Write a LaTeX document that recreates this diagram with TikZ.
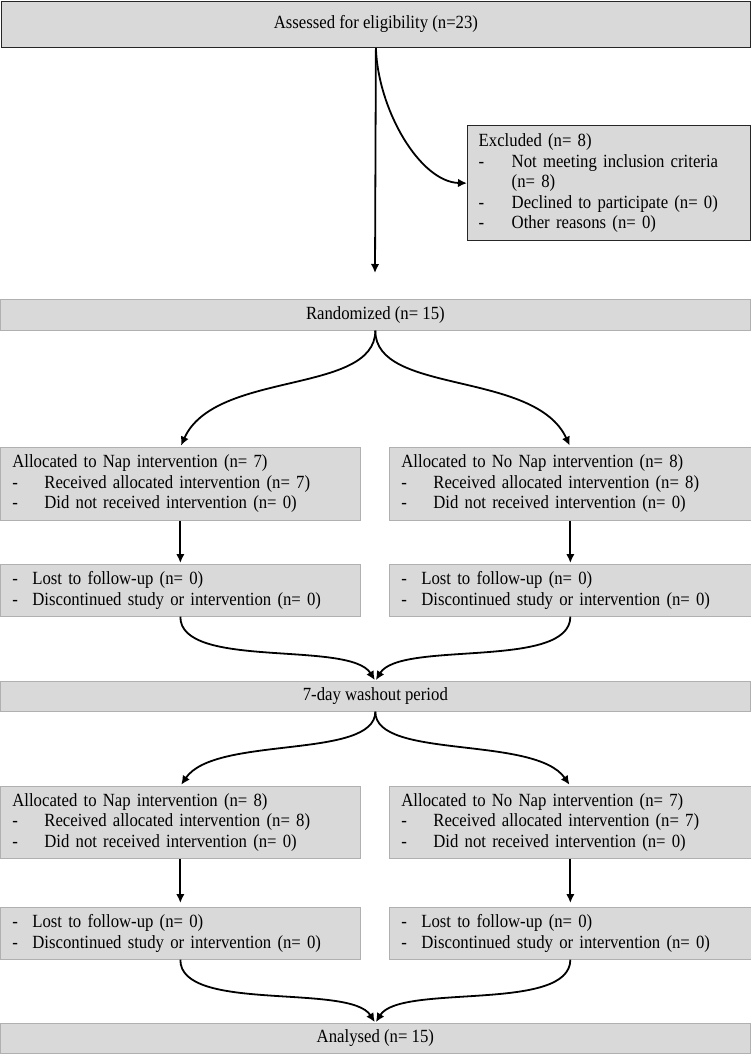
\documentclass[tikz,border=0pt]{standalone}
\usepackage{fontspec}
\setmainfont{Liberation Serif}[FakeStretch=0.90]
\usetikzlibrary{arrows.meta}
\definecolor{boxfill}{HTML}{D9D9D9}
\definecolor{boxline}{HTML}{B0B0B0}
\newcommand\dashitem[2]{\makebox[#1][l]{-}#2}
\begin{document}
\begin{tikzpicture}[x=1pt,y=-1pt,
  box/.style={draw=boxline, fill=boxfill, line width=0.7pt, inner ysep=0pt,
    font=\fontsize{18.6}{20.6}\selectfont, anchor=north west},
  darkbox/.style={box, draw=black!85, line width=1.4pt},
  cbox/.style={box, inner xsep=0pt, align=center},
  lbox/.style={box, inner xsep=12pt, align=left},
  arr/.style={-{Latex[length=9pt,width=8.5pt]}, line width=1.8pt, black},
]
\useasboundingbox (0,0) rectangle (751,1056);

\node[cbox, darkbox, minimum width=749pt, minimum height=46pt] (top) at (0.7,0.7) {Assessed for eligibility (n=23)};

\node[darkbox, inner xsep=11pt, align=left, text width=261pt, minimum width=283pt, minimum height=115pt] (excl) at (467,125)
 {Excluded (n= 8)\\
  \dashitem{33pt}{Not meeting inclusion criteria}\\
  \hspace*{33pt}(n= 8)\\
  \dashitem{33pt}{Declined to participate (n= 0)}\\
  \dashitem{33pt}{Other reasons (n= 0)}};

\coordinate (v1) at (375,273);

\node[cbox, minimum width=750pt, minimum height=31pt] (rand) at (0,299) {Randomized (n= 15)};

\node[lbox, text width=336pt, minimum width=360pt, minimum height=73pt] (al1) at (0,447)
 {Allocated to Nap intervention (n= 7)\\
  \dashitem{32pt}{Received allocated intervention (n= 7)}\\
  \dashitem{32pt}{Did not received intervention (n= 0)}};
\node[lbox, text width=338pt, minimum width=362pt, minimum height=73pt] (al2) at (389,447)
 {Allocated to No Nap intervention (n= 8)\\
  \dashitem{32pt}{Received allocated intervention (n= 8)}\\
  \dashitem{32pt}{Did not received intervention (n= 0)}};

\node[lbox, text width=336pt, minimum width=360pt, minimum height=52pt] (lo1) at (0,564)
 {\dashitem{20pt}{Lost to follow-up (n= 0)}\\
  \dashitem{20pt}{Discontinued study or intervention (n= 0)}};
\node[lbox, text width=338pt, minimum width=362pt, minimum height=52pt] (lo2) at (389,564)
 {\dashitem{20pt}{Lost to follow-up (n= 0)}\\
  \dashitem{20pt}{Discontinued study or intervention (n= 0)}};

\node[cbox, minimum width=750pt, minimum height=30pt] (wash) at (0,681) {7-day washout period};

\node[lbox, text width=336pt, minimum width=360pt, minimum height=72pt] (bl1) at (0,786)
 {Allocated to Nap intervention (n= 8)\\
  \dashitem{32pt}{Received allocated intervention (n= 8)}\\
  \dashitem{32pt}{Did not received intervention (n= 0)}};
\node[lbox, text width=338pt, minimum width=362pt, minimum height=72pt] (bl2) at (389,786)
 {Allocated to No Nap intervention (n= 7)\\
  \dashitem{32pt}{Received allocated intervention (n= 7)}\\
  \dashitem{32pt}{Did not received intervention (n= 0)}};

\node[lbox, text width=336pt, minimum width=360pt, minimum height=52pt] (ml1) at (0,907)
 {\dashitem{20pt}{Lost to follow-up (n= 0)}\\
  \dashitem{20pt}{Discontinued study or intervention (n= 0)}};
\node[lbox, text width=338pt, minimum width=362pt, minimum height=52pt] (ml2) at (389,907)
 {\dashitem{20pt}{Lost to follow-up (n= 0)}\\
  \dashitem{20pt}{Discontinued study or intervention (n= 0)}};

\node[cbox, minimum width=750pt, minimum height=30pt] (ana) at (0,1023) {Analysed (n= 15)};

% connectors
\draw[arr] (top.south) -- (v1);
\draw[arr] (top.south) .. controls (378,110) and (420,182) .. (excl.west);

\draw[arr, shorten >=1.5pt] (rand.south) .. controls (375,395) and (215,370) .. (al1.north);
\draw[arr, shorten >=1.5pt] (rand.south) .. controls (375,395) and (535,370) .. (al2.north);

\draw[arr, shorten >=1pt] (al1.south) -- (lo1.north);
\draw[arr, shorten >=1pt] (al2.south) -- (lo2.north);

\draw[arr, shorten >=1pt] (lo1.south) .. controls (180,670) and (350,640) .. (wash.north);
\draw[arr, shorten >=1pt] (lo2.south) .. controls (570,670) and (400,640) .. (wash.north);

\draw[arr, shorten >=1.5pt] (wash.south) .. controls (375,760) and (215,735) .. (bl1.north);
\draw[arr, shorten >=1.5pt] (wash.south) .. controls (375,760) and (535,735) .. (bl2.north);

\draw[arr, shorten >=4pt] (bl1.south) -- (ml1.north);
\draw[arr, shorten >=4pt] (bl2.south) -- (ml2.north);

\draw[arr, shorten >=1pt] (ml1.south) .. controls (180,1013) and (350,983) .. (ana.north);
\draw[arr, shorten >=1pt] (ml2.south) .. controls (570,1013) and (400,983) .. (ana.north);
\end{tikzpicture}
\end{document}
